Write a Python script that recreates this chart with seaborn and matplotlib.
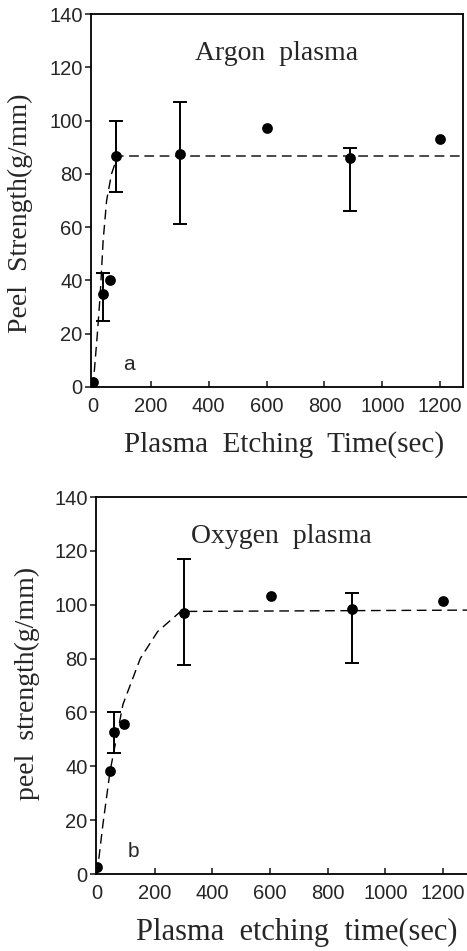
import matplotlib
matplotlib.use("Agg")
import matplotlib.pyplot as plt
import seaborn as sns
import pandas as pd

# ---- data ----
argon_t = [0, 35, 59, 80, 300, 600, 890, 1200]
argon_s = [1.9, 34.9, 40.2, 86.7, 87.4, 97.3, 86.0, 93.0]
argon_err_t = [35, 80, 300, 890]
argon_err_lo = [24.8, 73.3, 61.2, 66.2]
argon_err_hi = [42.8, 100.0, 107.0, 89.8]
argon_fit_t = [0, 15, 25, 35, 47, 64, 85, 1280]
argon_fit_s = [0, 20, 35, 55, 70, 80, 86.7, 86.7]

oxy_t = [0, 45, 60, 94, 300, 605, 885, 1200]
oxy_s = [2.6, 38.2, 52.7, 55.7, 96.9, 103.2, 98.4, 101.4]
oxy_err_t = [60, 300, 885]
oxy_err_lo = [44.9, 77.6, 78.4]
oxy_err_hi = [60.0, 117.0, 104.3]
oxy_fit_t = [0, 20, 45, 90, 150, 210, 290, 1283]
oxy_fit_s = [0, 18, 38, 63, 80, 90, 97.5, 98]

xticks = [0, 200, 400, 600, 800, 1000, 1200]
yticks = [0, 20, 40, 60, 80, 100, 120, 140]

sns.set_style("ticks")
plt.rcParams['font.family'] = ['Liberation Sans', 'DejaVu Sans']
SERIF = ['Liberation Serif', 'DejaVu Serif']

fig = plt.figure(figsize=(4.67, 9.51), dpi=100)
ax1 = fig.add_axes([91/467, 1-387/951, 372/467, 373/951])
ax2 = fig.add_axes([96/467, 1-874/951, 371/467, 377/951])


def panel(ax, t, s, et, elo, ehi, ft, fs, xlim, title, letter, xlabel, ylabel,
          ylab_x, ylab_y, xlab_x, xlab_size, right_spine):
    df = pd.DataFrame({'t': t, 's': s})
    fit = pd.DataFrame({'t': ft, 's': fs})
    sns.lineplot(data=fit, x='t', y='s', ax=ax, color='black', lw=1.0, sort=False)
    ax.lines[-1].set_dashes([7, 4])
    mid = [s[t.index(x)] for x in et]
    lo = [m - l for m, l in zip(mid, elo)]
    hi = [h - m for m, h in zip(mid, ehi)]
    ax.errorbar(et, mid, yerr=[lo, hi], fmt='none',
                ecolor='black', elinewidth=1.4, capsize=5, capthick=1.4)
    sns.scatterplot(data=df, x='t', y='s', ax=ax, color='black', s=60,
                    edgecolor='black', linewidth=0, zorder=5)
    ax.set_xlim(*xlim)
    ax.set_ylim(0, 140)
    ax.set_xticks(xticks)
    ax.set_yticks(yticks)
    ax.tick_params(axis='x', direction='in', length=4, width=1.2, labelsize=14.5, pad=7)
    ax.tick_params(axis='y', direction='out', length=4, width=1.2, labelsize=14.5, pad=2)
    for sp in ax.spines.values():
        sp.set_linewidth(1.3)
        sp.set_color('black')
    ax.spines['right'].set_visible(right_spine)
    ax.set_xlabel(xlabel, family=SERIF, fontsize=xlab_size)
    ax.xaxis.set_label_coords(xlab_x, -0.117)
    ax.set_ylabel(ylabel, family=SERIF, fontsize=20)
    ax.yaxis.set_label_coords(ylab_x, ylab_y)
    ax.text(0.5, 0.895, title, transform=ax.transAxes, family=SERIF, fontsize=20,
            ha='center', va='center')
    ax.text(105, 8.5, letter, fontsize=15, ha='left', va='center')


panel(ax1, argon_t, argon_s, argon_err_t, argon_err_lo, argon_err_hi,
      argon_fit_t, argon_fit_s, (-7, 1279), 'Argon  plasma', 'a',
      'Plasma  Etching  Time(sec)', 'Peel  Strength(g/mm)', -0.155, 0.466, 0.519, 21, True)
panel(ax2, oxy_t, oxy_s, oxy_err_t, oxy_err_lo, oxy_err_hi,
      oxy_fit_t, oxy_fit_s, (-3.5, 1283), 'Oxygen  plasma', 'b',
      'Plasma  etching  time(sec)', 'peel  strength(g/mm)', -0.15, 0.505, 0.54, 22, False)

fig.savefig('out.png', dpi=100, facecolor='white')
